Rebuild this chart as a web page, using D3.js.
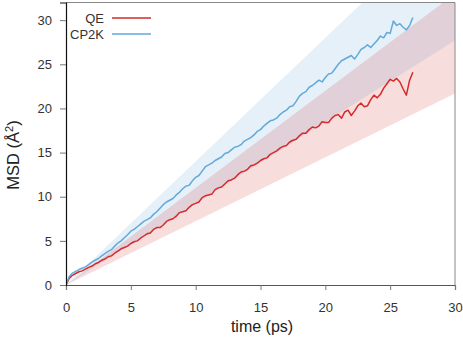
<!DOCTYPE html>
<html>
<head>
<meta charset="utf-8">
<script src="https://cdn.jsdelivr.net/npm/d3@7"></script>
<style>
  body { margin: 0; background: #fff; }
  svg text { font-family: "Liberation Sans", Arial, sans-serif; }
</style>
</head>
<body>
<svg id="chart" width="463" height="342"></svg>
<script>
// sampling step of the MSD curves (ps)
var dt = 0.25;

var qeMsd = [0, 0.75, 1.1, 1.3, 1.5, 1.6, 1.8, 2.0, 2.15, 2.4, 2.55, 2.8, 2.95, 3.2, 3.3, 3.6,
  3.85, 4.1, 4.25, 4.4, 4.7, 4.9, 5.0, 5.3, 5.55, 5.8, 5.9, 6.3, 6.5, 6.5, 6.8, 7.2,
  7.4, 7.5, 7.8, 8.2, 8.3, 8.4, 8.8, 9.1, 9.25, 9.4, 9.9, 10.1, 10.2, 10.3, 10.8, 11.0,
  11.1, 11.45, 11.8, 11.9, 12.1, 12.5, 12.8, 12.9, 13.1, 13.5, 13.6, 13.8, 14.1, 14.3,
  14.4, 14.8, 15.0, 15.2, 15.5, 15.7, 15.8, 16.2, 16.4, 16.5, 16.9, 17.2, 17.2, 17.6,
  17.9, 17.8, 18.0, 18.5, 18.4, 18.4, 18.9, 19.2, 19.3, 18.9, 19.6, 19.8, 19.2, 19.7,
  20.3, 20.6, 20.2, 20.3, 21.0, 21.5, 21.2, 21.6, 22.3, 22.8, 23.3, 23.1, 23.4, 23.0,
  22.2, 21.5, 23.2, 24.1];

var cp2kMsd = [0, 0.95, 1.35, 1.55, 1.75, 1.9, 2.05, 2.3, 2.6, 2.8, 3.0, 3.3, 3.55, 3.8, 4.0, 4.4,
  4.75, 5.0, 5.35, 5.7, 6.1, 6.3, 6.6, 6.9, 7.2, 7.4, 7.6, 8.0, 8.3, 8.7, 9.1, 9.4,
  9.6, 9.8, 10.2, 10.5, 10.9, 11.2, 11.3, 11.8, 12.2, 12.4, 12.9, 13.4, 13.6, 13.8, 14.1, 14.3,
  14.5, 14.9, 15.0, 15.3, 15.6, 15.7, 15.9, 16.3, 16.5, 16.7, 17.0, 17.4, 17.6, 18.0,
  18.3, 18.6, 18.7, 18.9, 19.3, 19.6, 19.8, 20.2, 20.3, 20.8, 21.4, 21.7, 21.9, 22.4,
  22.6, 22.9, 23.2, 23.0, 23.5, 23.9, 24.0, 24.5, 25.0, 25.4, 25.6, 25.8, 26.0, 25.6,
  26.1, 26.7, 26.9, 27.2, 26.9, 27.3, 27.7, 28.2, 28.0, 28.6, 28.5, 29.9, 29.4, 29.6,
  29.2, 28.9, 29.4, 30.3];

// confidence bands (linear fits), given at the two ends of the time axis
var bandTime = [0, 30];
var qeLow = [0, 21.7], qeHigh = [0, 33.0];
var cp2kLow = [0, 27.7], cp2kHigh = [0, 42.0];

var xTicks = [0, 5, 10, 15, 20, 25, 30];
var yTicks = [0, 5, 10, 15, 20, 25, 30];

var series = [
  { name: "QE", values: qeMsd, low: qeLow, high: qeHigh, color: "#d42a2c" },
  { name: "CP2K", values: cp2kMsd, low: cp2kLow, high: cp2kHigh, color: "#62a9d9" }
];

var svg = d3.select("#chart");
var mLeft = 66, mRight = 455, mTop = 2.5, mBottom = 285;

var x = d3.scaleLinear().domain([0, 30]).range([mLeft, mRight]);
var y = d3.scaleLinear().domain([0, 32]).range([mBottom, mTop]);

svg.append("defs").append("clipPath").attr("id", "plotclip")
  .append("rect").attr("x", mLeft).attr("y", mTop)
  .attr("width", mRight - mLeft).attr("height", mBottom - mTop);

var plot = svg.append("g").attr("clip-path", "url(#plotclip)");

// bands: blue first, red on top
var area = d3.area()
  .x(function(d) { return x(d.t); })
  .y0(function(d) { return y(d.lo); })
  .y1(function(d) { return y(d.hi); });

[series[1], series[0]].forEach(function(s) {
  var pts = bandTime.map(function(t, i) { return { t: t, lo: s.low[i], hi: s.high[i] }; });
  plot.append("path")
    .attr("d", area(pts))
    .attr("fill", s.color)
    .attr("fill-opacity", s.name == "QE" ? 0.16 : 0.17);
});

var line = d3.line()
  .x(function(d, i) { return x(i * dt); })
  .y(function(d) { return y(d); });

[series[0], series[1]].forEach(function(s) {
  plot.append("path")
    .attr("d", line(s.values))
    .attr("fill", "none")
    .attr("stroke", s.color)
    .attr("stroke-width", 1.5)
    .attr("stroke-linejoin", "round");
});

// frame (top and right)
svg.append("line").attr("x1", mLeft).attr("x2", mRight).attr("y1", mTop).attr("y2", mTop)
  .attr("stroke", "#888").attr("stroke-width", 1);
svg.append("line").attr("x1", mRight).attr("x2", mRight).attr("y1", mTop).attr("y2", mBottom)
  .attr("stroke", "#888").attr("stroke-width", 1);

// axes
var xAxis = svg.append("g").attr("transform", "translate(0," + mBottom + ")")
  .call(d3.axisBottom(x).tickValues(xTicks).tickSize(5).tickPadding(13).tickFormat(d3.format("d")));
var yAxis = svg.append("g").attr("transform", "translate(" + mLeft + ",0)")
  .call(d3.axisLeft(y).tickValues(yTicks).tickSize(6).tickPadding(8).tickFormat(d3.format("d")));

xAxis.select(".domain").attr("stroke", "#555").attr("stroke-width", 1.2);
yAxis.select(".domain").attr("stroke", "#111").attr("stroke-width", 1.2);
[xAxis, yAxis].forEach(function(a) {
  a.selectAll(".tick line").attr("stroke", "#777");
  a.selectAll(".tick text").attr("font-size", 13).attr("fill", "#333")
    .style("font-family", "'Liberation Sans', Arial, sans-serif");
});

// axis titles
svg.append("text")
  .attr("x", 262).attr("y", 332)
  .attr("text-anchor", "middle").attr("font-size", 16).attr("fill", "#222")
  .text("time (ps)");

var ylab = svg.append("text")
  .attr("transform", "translate(19,155) rotate(-90)")
  .attr("text-anchor", "middle").attr("font-size", 16.5).attr("fill", "#222");
ylab.append("tspan").text("MSD (Å");
ylab.append("tspan").attr("baseline-shift", "super").attr("font-size", 11).text("2");
ylab.append("tspan").text(")");

// legend
var legend = svg.append("g");
series.forEach(function(s, i) {
  var ly = 18 + i * 16;
  legend.append("text").attr("x", 104).attr("y", ly + 4.5)
    .attr("text-anchor", "end").attr("font-size", 13).attr("fill", "#333").text(s.name);
  legend.append("line").attr("x1", 112).attr("x2", 151).attr("y1", ly).attr("y2", ly)
    .attr("stroke", s.color).attr("stroke-width", 1.5);
});
</script>
</body>
</html>
